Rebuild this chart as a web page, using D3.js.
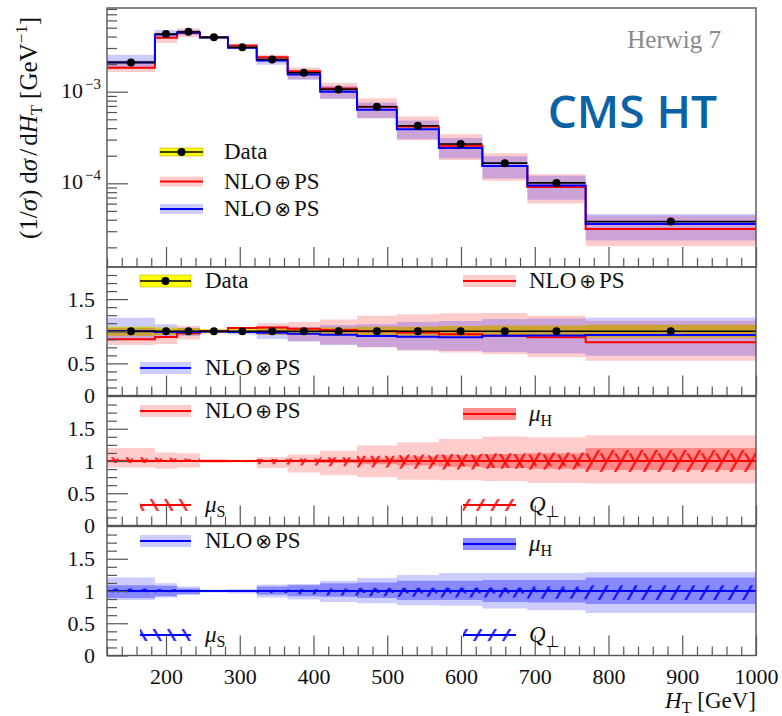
<!DOCTYPE html>
<html>
<head>
<meta charset="utf-8">
<script src="https://cdn.jsdelivr.net/npm/d3@7/dist/d3.min.js"></script>
<style>
  body { margin: 0; background: #fff; }
  svg text { font-family: "Liberation Serif", "DejaVu Serif", serif; fill: #111; }
</style>
</head>
<body>
<svg id="chart" width="782" height="716"></svg>
<script>
// ---- H_T binning [GeV] ----
const binEdges = [120, 185, 215, 246, 284, 323, 365, 409, 459, 513, 570, 629, 690, 769, 1000];

// ---- measured normalised distribution (1/sigma dsigma/dHT) ----
const dataValues = [2.09e-3, 4.26e-3, 4.50e-3, 3.92e-3, 3.05e-3, 2.25e-3, 1.61e-3, 1.06e-3,
                    6.86e-4, 4.25e-4, 2.69e-4, 1.66e-4, 1.01e-4, 3.82e-5];
const dataRelErr = [0.07, 0.06, 0.05, 0.03, 0.03, 0.05, 0.05, 0.06, 0.07, 0.07, 0.08, 0.09, 0.09, 0.10];

// ---- predictions relative to data ----
const plusRatio  = [0.875, 0.91, 0.97, 1.00, 1.05, 1.06, 1.04, 1.02, 1.00, 0.98, 0.955, 0.93, 0.905, 0.83];
const timesRatio = [1.00, 0.99, 0.985, 0.995, 0.99, 0.975, 0.96, 0.945, 0.925, 0.915, 0.905, 0.93, 0.935, 0.94];

// ---- NLO (+) PS envelopes, relative to its central value ----
const plusTotUp   = [1.20, 1.13, 1.12, 1.03, 1.02, 1.06, 1.10, 1.16, 1.24, 1.29, 1.34, 1.38, 1.37, 1.40];
const plusTotDown = [0.90, 0.88, 0.90, 0.97, 0.98, 0.89, 0.82, 0.78, 0.75, 0.71, 0.70, 0.69, 0.66, 0.65];
const plusMuHUp   = [1.02, 1.015, 1.01, 1.005, 1.005, 1.01, 1.02, 1.03, 1.05, 1.07, 1.09, 1.11, 1.12, 1.20];
const plusMuHDown = [0.98, 0.985, 0.99, 0.995, 0.995, 0.99, 0.98, 0.97, 0.95, 0.93, 0.91, 0.89, 0.88, 0.86];
const plusMuSUp   = [1.06, 1.05, 1.04, 1.01, 1.00, 1.03, 1.04, 1.06, 1.08, 1.09, 1.10, 1.11, 1.10, 1.12];
const plusMuSDown = [0.98, 0.985, 0.99, 0.995, 1.00, 1.00, 1.00, 0.99, 0.97, 0.95, 0.92, 0.89, 0.92, 0.99];
const plusQUp     = [1.04, 1.04, 1.03, 1.00, 1.01, 1.03, 1.04, 1.06, 1.08, 1.10, 1.11, 1.12, 1.13, 1.17];
const plusQDown   = [0.97, 0.98, 0.99, 1.00, 0.98, 0.95, 0.93, 0.92, 0.90, 0.88, 0.87, 0.88, 0.87, 0.83];

// ---- NLO (x) PS envelopes, relative to its central value ----
const timesTotUp   = [1.21, 1.12, 1.07, 1.025, 1.03, 1.10, 1.11, 1.16, 1.20, 1.25, 1.28, 1.28, 1.28, 1.29];
const timesTotDown = [0.86, 0.90, 0.94, 0.975, 0.96, 0.90, 0.87, 0.83, 0.81, 0.78, 0.77, 0.73, 0.70, 0.66];
const timesMuHUp   = [1.09, 1.08, 1.04, 1.01, 1.01, 1.07, 1.09, 1.12, 1.13, 1.16, 1.16, 1.17, 1.17, 1.21];
const timesMuHDown = [0.89, 0.92, 0.95, 0.99, 0.99, 0.94, 0.92, 0.91, 0.89, 0.86, 0.86, 0.83, 0.82, 0.80];
const timesMuSUp   = [1.04, 1.03, 1.02, 1.00, 1.00, 1.01, 1.01, 1.02, 1.03, 1.04, 1.05, 1.05, 1.03, 1.02];
const timesMuSDown = [0.98, 0.99, 0.99, 1.00, 1.00, 0.99, 0.99, 0.98, 0.97, 0.96, 0.96, 0.96, 0.98, 0.99];
const timesQUp     = [1.03, 1.02, 1.01, 1.00, 1.00, 1.02, 1.03, 1.04, 1.05, 1.05, 1.05, 1.05, 1.07, 1.09];
const timesQDown   = [0.98, 0.98, 0.99, 1.00, 1.00, 0.97, 0.95, 0.93, 0.92, 0.91, 0.90, 0.90, 0.88, 0.86];

// ---- axis ticks ----
const xMajorTicks = [200, 300, 400, 500, 600, 700, 800, 900, 1000];
const ratioMajorTicks = [0, 0.5, 1, 1.5];
const ratioTickLabels = ["0", "0.5", "1", "1.5"];
const logMajorTicks = [1e-4, 1e-3];
const logTickExponents = ["−4", "−3"];

// ---- colours ----
const RED = "#ff0000", BLUE = "#0000ff";
const PINK_BAND = "rgba(255,0,0,0.2)", BLUE_BAND = "rgba(0,0,255,0.2)";
const RED_DARK = "rgba(255,0,0,0.33)", BLUE_DARK = "rgba(0,0,255,0.33)";
const AXIS = "#555";

// ---- layout ----
const L = 107, R = 756;
const panels = {
  main: { top: 8, bottom: 267 },
  r1: { top: 267, bottom: 395.5 },
  r2: { top: 396.5, bottom: 525.5 },
  r3: { top: 526.5, bottom: 655.5 }
};

const svg = d3.select("#chart");
const defs = svg.append("defs");

const x = d3.scaleLinear().domain([120, 1000]).range([L, R]);
const yMain = d3.scaleLog().domain([1.22e-5, 8.2e-3]).range([panels.main.bottom, panels.main.top]);
function ratioScale(p) { return d3.scaleLinear().domain([0, 2]).range([p.bottom, p.top]); }
const yR1 = ratioScale(panels.r1), yR2 = ratioScale(panels.r2), yR3 = ratioScale(panels.r3);

// hatch patterns: "/" and "\" line fills
function hatch(id, color, angle) {
  const p = defs.append("pattern").attr("id", id)
    .attr("patternUnits", "userSpaceOnUse")
    .attr("width", 12.5).attr("height", 10)
    .attr("patternTransform", `rotate(${angle})`);
  p.append("line").attr("x1", 6.25).attr("x2", 6.25).attr("y1", -1).attr("y2", 11)
    .attr("stroke", color).attr("stroke-width", 2);
}
hatch("fwdRed", RED, 30);
hatch("backRed", RED, -30);
hatch("fwdBlue", BLUE, 30);
hatch("backBlue", BLUE, -30);

// clip paths per panel
Object.entries(panels).forEach(([k, p]) => {
  defs.append("clipPath").attr("id", "clip-" + k)
    .append("rect").attr("x", L).attr("y", p.top).attr("width", R - L).attr("height", p.bottom - p.top);
});

// step-shaped helpers
const nBins = dataValues.length;
function stepPoints(lo, hi) {
  const pts = [];
  for (let i = 0; i < nBins; i++) pts.push({ x: binEdges[i], lo: lo[i], hi: hi ? hi[i] : lo[i] });
  pts.push({ x: binEdges[nBins], lo: lo[nBins - 1], hi: hi ? hi[nBins - 1] : lo[nBins - 1] });
  return pts;
}
function drawBand(g, y, lo, hi, fill) {
  const area = d3.area().curve(d3.curveStepAfter)
    .x(d => x(d.x)).y0(d => y(d.lo)).y1(d => y(d.hi));
  g.append("path").attr("d", area(stepPoints(lo, hi))).attr("fill", fill).attr("stroke", "none");
}
function drawStep(g, y, vals, color, width) {
  const line = d3.line().curve(d3.curveStepAfter).x(d => x(d.x)).y(d => y(d.lo));
  g.append("path").attr("d", line(stepPoints(vals))).attr("fill", "none")
    .attr("stroke", color).attr("stroke-width", width || 2);
}
const mul = (a, b) => a.map((v, i) => v * b[i]);
const ones = dataValues.map(() => 1);

// ---------------- main panel ----------------
const gMain = svg.append("g").attr("clip-path", "url(#clip-main)");
const mcPlus = mul(dataValues, plusRatio);
const mcTimes = mul(dataValues, timesRatio);
drawBand(gMain, yMain, mul(mcPlus, plusTotDown), mul(mcPlus, plusTotUp), PINK_BAND);
drawBand(gMain, yMain, mul(mcTimes, timesTotDown), mul(mcTimes, timesTotUp), BLUE_BAND);
drawStep(gMain, yMain, mcPlus, RED);
drawStep(gMain, yMain, mcTimes, BLUE);
dataValues.forEach((v, i) => {
  const xc = x((binEdges[i] + binEdges[i + 1]) / 2);
  gMain.append("line").attr("x1", x(binEdges[i])).attr("x2", x(binEdges[i + 1]))
    .attr("y1", yMain(v)).attr("y2", yMain(v)).attr("stroke", "#000").attr("stroke-width", 1.6);
  gMain.append("line").attr("x1", xc).attr("x2", xc)
    .attr("y1", yMain(v * (1 - dataRelErr[i] * 0.3))).attr("y2", yMain(v * (1 + dataRelErr[i] * 0.3)))
    .attr("stroke", "#000").attr("stroke-width", 1.6);
  gMain.append("circle").attr("cx", xc).attr("cy", yMain(v)).attr("r", 4).attr("fill", "#000");
});

// ---------------- ratio panel: predictions / data ----------------
const g1 = svg.append("g").attr("clip-path", "url(#clip-r1)");
drawBand(g1, yR1, dataRelErr.map(e => 1 - e), dataRelErr.map(e => 1 + e), "#ffff00");
drawBand(g1, yR1, mul(plusRatio, plusTotDown), mul(plusRatio, plusTotUp), PINK_BAND);
drawBand(g1, yR1, mul(timesRatio, timesTotDown), mul(timesRatio, timesTotUp), BLUE_BAND);
drawStep(g1, yR1, plusRatio, RED);
drawStep(g1, yR1, timesRatio, BLUE);
drawStep(g1, yR1, ones, "#000", 1.6);
dataValues.forEach((v, i) => {
  g1.append("circle").attr("cx", x((binEdges[i] + binEdges[i + 1]) / 2)).attr("cy", yR1(1))
    .attr("r", 4).attr("fill", "#000");
});

// ---------------- NLO (+) PS variations ----------------
const g2 = svg.append("g").attr("clip-path", "url(#clip-r2)");
drawBand(g2, yR2, plusTotDown, plusTotUp, PINK_BAND);
drawBand(g2, yR2, plusMuHDown, plusMuHUp, RED_DARK);
drawBand(g2, yR2, plusMuSDown, plusMuSUp, "url(#backRed)");
drawBand(g2, yR2, plusQDown, plusQUp, "url(#fwdRed)");
drawStep(g2, yR2, ones, RED);

// ---------------- NLO (x) PS variations ----------------
const g3 = svg.append("g").attr("clip-path", "url(#clip-r3)");
drawBand(g3, yR3, timesTotDown, timesTotUp, BLUE_BAND);
drawBand(g3, yR3, timesMuHDown, timesMuHUp, BLUE_DARK);
drawBand(g3, yR3, timesMuSDown, timesMuSUp, "url(#backBlue)");
drawBand(g3, yR3, timesQDown, timesQUp, "url(#fwdBlue)");
drawStep(g3, yR3, ones, BLUE);

// ---------------- frames and ticks ----------------
const xMinor = d3.range(120, 1001, 20).filter(v => !xMajorTicks.includes(v));
function styleAxis(g) {
  g.select(".domain").remove();
  g.selectAll(".tick line").attr("stroke", AXIS).attr("stroke-width", 1.2);
  g.selectAll(".tick text").attr("font-size", 22).attr("fill", "#111")
    .attr("font-family", '"Liberation Serif", "DejaVu Serif", serif');
}
Object.entries(panels).forEach(([k, p]) => {
  svg.append("rect").attr("x", L).attr("y", p.top).attr("width", R - L).attr("height", p.bottom - p.top)
    .attr("fill", "none").attr("stroke", AXIS).attr("stroke-width", 1.4);
  const last = k === "r3";
  svg.append("g").attr("transform", `translate(0,${p.bottom})`)
    .call(d3.axisBottom(x).tickValues(xMinor).tickSizeInner(-9).tickSizeOuter(0).tickFormat(""))
    .call(styleAxis);
  svg.append("g").attr("transform", `translate(0,${p.bottom})`)
    .call(d3.axisBottom(x).tickValues(xMajorTicks).tickSizeInner(-20).tickSizeOuter(0)
      .tickPadding(13).tickFormat(last ? d3.format("d") : () => ""))
    .call(styleAxis);
});

// ratio y-axes
[yR1, yR2, yR3].forEach(ys => {
  const minor = d3.range(0, 2.001, 0.125).filter(v => !ratioMajorTicks.includes(v) && v < 2);
  svg.append("g").attr("transform", `translate(${L},0)`)
    .call(d3.axisLeft(ys).tickValues(minor).tickSizeInner(-10).tickSizeOuter(0).tickFormat(""))
    .call(styleAxis);
  svg.append("g").attr("transform", `translate(${L},0)`)
    .call(d3.axisLeft(ys).tickValues(ratioMajorTicks).tickSizeInner(-21).tickSizeOuter(0)
      .tickPadding(12).tickFormat((d, i) => ratioTickLabels[i]))
    .call(styleAxis);
});

// log y-axis of the main panel
const logMinor = [];
[1e-5, 1e-4, 1e-3].forEach(dec => { for (let m = 2; m <= 9; m++) logMinor.push(dec * m); });
const [lo0, hi0] = yMain.domain();
svg.append("g").attr("transform", `translate(${L},0)`)
  .call(d3.axisLeft(yMain).tickValues(logMinor.filter(v => v >= lo0 && v <= hi0))
    .tickSizeInner(-10).tickSizeOuter(0).tickFormat(""))
  .call(styleAxis);
svg.append("g").attr("transform", `translate(${L},0)`)
  .call(d3.axisLeft(yMain).tickValues(logMajorTicks).tickSizeInner(-21).tickSizeOuter(0).tickFormat(""))
  .call(styleAxis);
logMajorTicks.forEach((v, i) => {
  const t = svg.append("text").attr("x", 101).attr("y", yMain(v) + 6).attr("text-anchor", "end")
    .attr("font-size", 22);
  t.append("tspan").text("10");
  t.append("tspan").attr("font-size", 15).attr("dy", -9).attr("dx", 2).text(logTickExponents[i]);
});

// axis titles
const xt = svg.append("text").attr("x", R).attr("y", 708).attr("text-anchor", "end").attr("font-size", 23);
xt.append("tspan").attr("font-style", "italic").text("H");
xt.append("tspan").attr("font-size", 16).attr("dy", 5).text("T");
xt.append("tspan").attr("dy", -5).text(" [GeV]");

const yt = svg.append("text").attr("transform", "translate(37,128) rotate(-90)")
  .attr("text-anchor", "middle").attr("font-size", 25);
yt.append("tspan").text("(1/");
yt.append("tspan").attr("font-style", "italic").text("σ");
yt.append("tspan").attr("dx", 1).text(")");
yt.append("tspan").attr("dx", 6).text("d");
yt.append("tspan").attr("font-style", "italic").text("σ");
yt.append("tspan").attr("dx", 3).text("/");
yt.append("tspan").attr("dx", 3).text("d");
yt.append("tspan").attr("font-style", "italic").text("H");
yt.append("tspan").attr("font-size", 17).attr("dy", 5).text("T");
yt.append("tspan").attr("dy", -5).attr("dx", 6).text("[GeV");
yt.append("tspan").attr("font-size", 17).attr("dy", -10).text("−1");
yt.append("tspan").attr("dy", 10).text("]");

// ---------------- annotations ----------------
svg.append("text").attr("x", 721).attr("y", 48).attr("text-anchor", "end")
  .attr("font-size", 25).style("fill", "#888").text("Herwig 7");
svg.append("text").attr("x", 717).attr("y", 128).attr("text-anchor", "end")
  .attr("font-size", 46).attr("font-weight", 600)
  .style("font-family", '"Open Sans", "Noto Sans", sans-serif').style("fill", "#0b62a4")
  .text("CMS HT");

// ---------------- legends ----------------
function label(t, parts) {
  parts.forEach(p => {
    const s = t.append("tspan").text(p.t);
    if (p.italic) s.attr("font-style", "italic");
    if (p.sym) s.style("font-family", '"DejaVu Sans", sans-serif').attr("font-size", 20);
    if (p.size) s.attr("font-size", p.size);
    if (p.dx) s.attr("dx", p.dx);
    if (p.dy) s.attr("dy", p.dy);
  });
}
const LBL_DATA = [{ t: "Data" }];
const LBL_PLUS = [{ t: "NLO" }, { t: "⊕", sym: true, dx: 3 }, { t: "PS", dx: 3 }];
const LBL_TIMES = [{ t: "NLO" }, { t: "⊗", sym: true, dx: 3 }, { t: "PS", dx: 3 }];
const LBL_MUS = [{ t: "μ", italic: true }, { t: "S", size: 16, dy: 5 }];
const LBL_MUH = [{ t: "μ", italic: true }, { t: "H", size: 16, dy: 5 }];
const LBL_Q = [{ t: "Q", italic: true }, { t: "⊥", size: 16, dy: 5, sym: true }];

function legendItem(x0, x1, tx, yc, kind, opt, parts) {
  const h = opt.h || 12;
  if (kind === "data") {
    svg.append("rect").attr("x", x0).attr("y", yc - h / 2).attr("width", x1 - x0).attr("height", h)
      .attr("fill", "#ffff00").attr("stroke", "#b8b800").attr("stroke-width", 0.6);
    svg.append("line").attr("x1", x0).attr("x2", x1).attr("y1", yc).attr("y2", yc)
      .attr("stroke", "#000").attr("stroke-width", 1.6);
    svg.append("circle").attr("cx", (x0 + x1) / 2).attr("cy", yc).attr("r", 4).attr("fill", "#000");
  } else {
    svg.append("rect").attr("x", x0).attr("y", yc - h / 2).attr("width", x1 - x0).attr("height", h)
      .attr("fill", opt.fill);
    svg.append("line").attr("x1", x0).attr("x2", x1).attr("y1", yc).attr("y2", yc)
      .attr("stroke", opt.color).attr("stroke-width", 2);
  }
  const t = svg.append("text").attr("x", tx).attr("y", yc + 7).attr("font-size", 23);
  label(t, parts);
}
// main panel
legendItem(160, 203, 224, 152, "data", { h: 8 }, LBL_DATA);
legendItem(160, 203, 224, 181.5, "band", { h: 10, fill: PINK_BAND, color: RED }, LBL_PLUS);
legendItem(160, 203, 224, 209, "band", { h: 10, fill: BLUE_BAND, color: BLUE }, LBL_TIMES);
// ratio panel
legendItem(140, 191, 205, 281, "data", {}, LBL_DATA);
legendItem(140, 191, 205, 368, "band", { fill: BLUE_BAND, color: BLUE }, LBL_TIMES);
legendItem(463, 516, 529, 281, "band", { fill: PINK_BAND, color: RED }, LBL_PLUS);
// NLO (+) PS variations
legendItem(140, 191, 205, 411, "band", { fill: PINK_BAND, color: RED }, LBL_PLUS);
legendItem(140, 191, 205, 505, "band", { fill: "url(#backRed)", color: RED }, LBL_MUS);
legendItem(463, 516, 529, 414, "band", { fill: "rgba(255,0,0,0.45)", color: RED }, LBL_MUH);
legendItem(463, 516, 529, 505, "band", { fill: "url(#fwdRed)", color: RED }, LBL_Q);
// NLO (x) PS variations
legendItem(140, 191, 205, 541, "band", { fill: BLUE_BAND, color: BLUE }, LBL_TIMES);
legendItem(140, 191, 205, 635, "band", { fill: "url(#backBlue)", color: BLUE }, LBL_MUS);
legendItem(463, 516, 529, 544, "band", { fill: "rgba(0,0,255,0.45)", color: BLUE }, LBL_MUH);
legendItem(463, 516, 529, 635, "band", { fill: "url(#fwdBlue)", color: BLUE }, LBL_Q);
</script>
</body>
</html>
